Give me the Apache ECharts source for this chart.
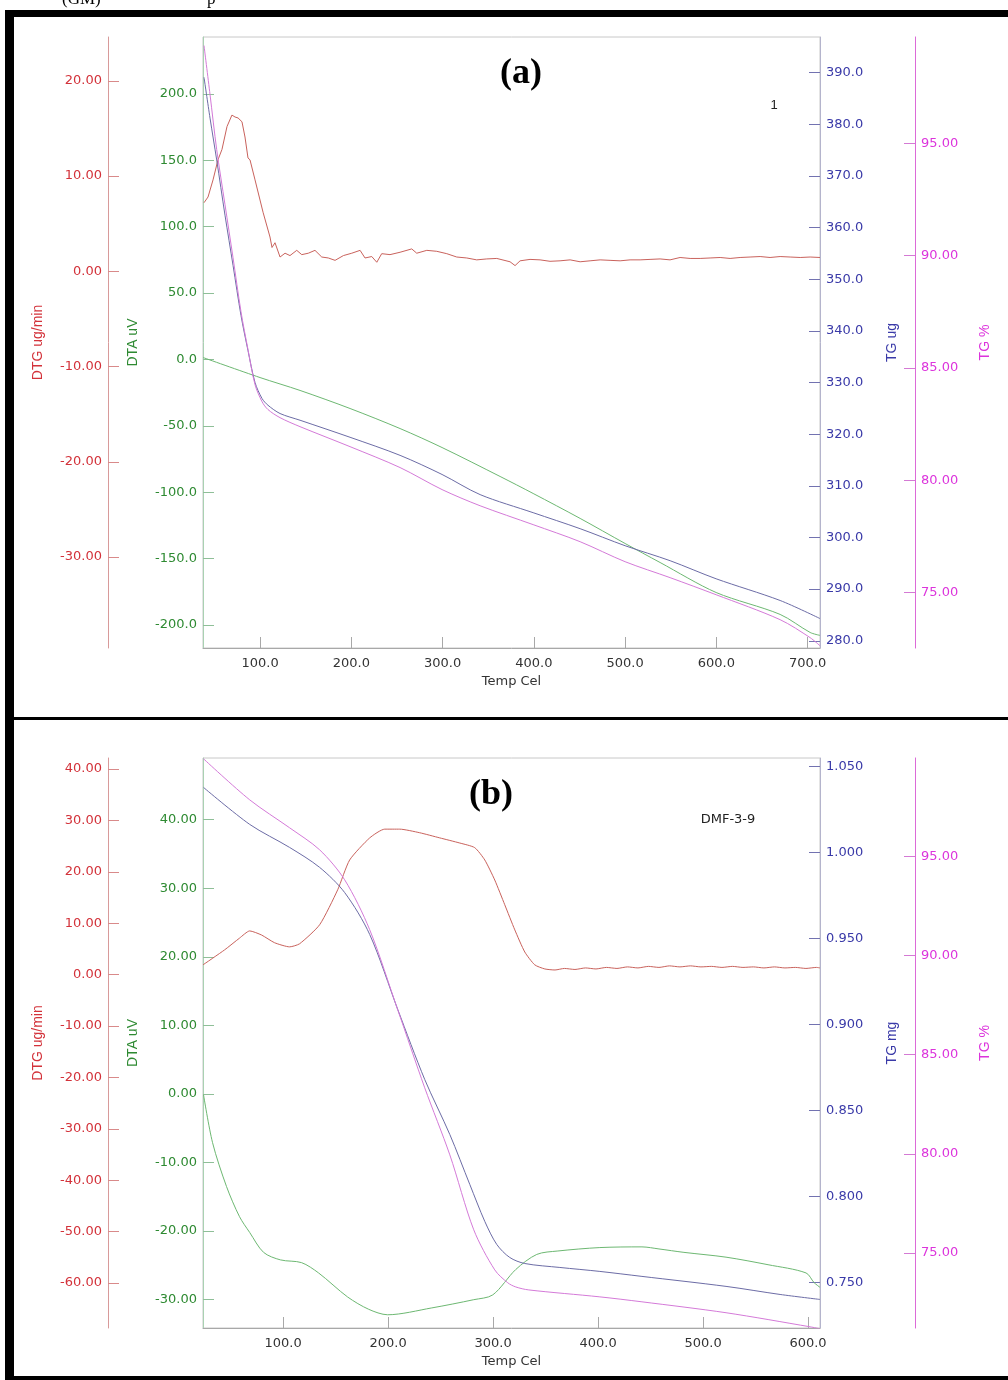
<!DOCTYPE html>
<html>
<head>
<meta charset="utf-8">
<script src="https://cdn.jsdelivr.net/npm/echarts@6.0.0/dist/echarts.min.js"></script>
<style>
html, body { margin: 0; padding: 0; background: #fff; }
#chart { width: 1008px; height: 1380px; }
</style>
</head>
<body>
<div id="chart"></div>
<script>
// ---- panel (a) ----
const dtgTempA = [38.6,43,48.5,53.9,58.3,63.8,69.2,72.6,75.9,80.2,83.5,86.8,89,94.5,103.3,110.9,113.1,116.4,121.9,127.4,
  132.8,140.2,145.7,152.9,160.2,167.6,174.8,182.2,191.3,200.5,209.6,215,222.4,227.9,233.3,242.4,253.4,266.2,271.7,282.7,
  293.6,304.6,315.5,326.5,337.4,348.4,359.4,373.9,379.4,384.9,395.8,406.8,417.7,428.7,439.7,450.7,461.6,472.6,483.5,494.5,
  505.4,516.4,527.3,538.3,549.2,560.2,571.2,582.2,593.1,604.1,615,626,636.9,647.9,658.8,669.8,680.8,691.8,702.7,713.5];
const dtgA = [7.2,7.8,9.6,11.7,12.8,15.2,16.4,16.2,16.1,15.7,14.1,11.9,11.7,9.6,6.2,3.6,2.5,3.0,1.5,1.9,
  1.65,2.2,1.75,1.9,2.2,1.5,1.4,1.15,1.65,1.9,2.2,1.4,1.55,0.95,1.85,1.75,2.0,2.35,1.9,2.2,
  2.1,1.85,1.5,1.4,1.2,1.3,1.35,1.0,0.6,1.1,1.25,1.2,1.05,1.1,1.2,1.0,1.1,1.2,1.15,1.1,
  1.2,1.2,1.25,1.3,1.2,1.45,1.35,1.35,1.4,1.45,1.35,1.45,1.5,1.55,1.45,1.55,1.5,1.45,1.5,1.45];

const dtaTempA = [37.5,100,143.8,198.6,253.4,299.4,363,399.2,450.7,500,538.3,599.7,669.8,702.7,713.5];
const dtaA = [1.5,-13.6,-23.3,-36.9,-52,-66.3,-88.1,-100.9,-119.7,-138.6,-152.9,-175.5,-192,-205.6,-207.8];

const tgTempA = [38.6,45.2,52.5,61.6,70.4,79.1,86.8,94.5,102.2,108.7,121.9,143.8,198.6,253.4,299.4,341.1,399.2,450.7,500,549.3,599.7,669.8,713.5];
const tgA = [389.1,381.2,373.1,362.4,352.7,343,336.2,330,326.9,325.6,324,322.7,319.4,315.9,312.2,308.3,304.8,301.7,298.4,295.5,292,287.8,284.3];

const tgpTempA = [38.6,45.2,52.5,61.6,70.4,79.1,86.8,94.5,102.2,108.7,121.9,143.8,198.6,253.4,299.4,341.1,399.2,450.7,500,549.3,599.7,669.8,702.7,713.5];
const tgpA = [99.35,97.17,94.72,92.27,89.91,87.51,85.82,84.26,83.5,83.15,82.79,82.39,81.5,80.57,79.59,78.87,78.03,77.27,76.38,75.67,74.91,73.8,73.0,72.64];

// ---- panel (b) ----
const dtgTempB = [23.7,44.2,58.5,68.2,79.5,91.9,106.2,115.7,134.8,152,163.4,182.5,196.8,211.1,230.1,249.2,268.3,282.5,292.1,301.6,
  311.1,320.7,330.2,339.7,349.3,359,368,378,388,398,408,418,428,438,448,458,468,478,488,498,508,518,528,538,548,558,568,578,588,598,608,611.4];
const dtgB = [1.9,4.8,7.1,8.5,7.7,6.2,5.4,6.0,9.7,16.5,22.3,26.6,28.3,28.3,27.6,26.6,25.6,24.7,22.3,18.4,
  13.6,8.7,4.4,1.9,1.1,0.9,1.2,1.0,1.3,1.1,1.4,1.2,1.5,1.3,1.6,1.4,1.7,1.5,1.7,1.5,1.6,1.4,1.6,1.4,1.5,1.3,1.5,1.3,1.4,1.2,1.4,1.3];

const dtaTempB = [24.2,32.8,46.1,58.5,68.2,81.4,97.6,117.6,133.8,161.4,181.5,199.6,241.6,281.6,299.7,321.6,341.6,361.7,401.7,441.8,458,481.8,521.9,561.9,598.1,605.7,611.4];
const dtaB = [-0.1,-7.1,-13.5,-17.9,-20.2,-23.1,-24.2,-24.6,-26.1,-29.6,-31.4,-32.2,-31.2,-30,-29.3,-25.6,-23.4,-22.9,-22.4,-22.3,-22.6,-23.1,-23.8,-24.9,-26.1,-27.5,-28.2];

const tgTempB = [24.2,68.2,106.2,134.8,158.6,182.5,209.2,234.9,258.8,277.8,292.1,303.5,315.9,330.2,363.6,401.7,441.8,521.9,573.4,611.4];
const tgB = [1.0378,1.0163,1.0029,0.9913,0.9767,0.9523,0.9087,0.868,0.8360,0.8070,0.7855,0.7721,0.7645,0.7610,0.7587,0.7564,0.7535,0.7477,0.743,0.7401];

const tgpTempB = [24.2,68.2,106.2,134.8,158.6,182.5,209.2,234.9,258.8,281.6,301.6,314,321.6,334,401.7,441.8,521.9,602,611.4];
const tgpB = [99.92,97.85,96.44,95.33,93.82,91.3,87.26,83.33,79.95,76.17,74.15,73.5,73.29,73.14,72.79,72.54,71.99,71.28,71.18];

// tick labels
const tempTicksA = [100,200,300,400,500,600,700];
const tempTicksB = [100,200,300,400,500,600];
const dtgTicksA = [-30,-20,-10,0,10,20];
const dtaTicksA = [-200,-150,-100,-50,0,50,100,150,200];
const tgTicksA = [280,290,300,310,320,330,340,350,360,370,380,390];
const tgpTicksA = [75,80,85,90,95];
const dtgTicksB = [-60,-50,-40,-30,-20,-10,0,10,20,30,40];
const dtaTicksB = [-30,-20,-10,0,10,20,30,40];
const tgTicksB = [0.75,0.8,0.85,0.9,0.95,1.0,1.05];
const tgpTicksB = [75,80,85,90,95];

const FONT = 'Liberation Sans, Arial, sans-serif';
const TICKFONT = 'DejaVu Sans, Liberation Sans, sans-serif';
const C = {
  dtg: { label: '#d3323a', line: '#d89a9a', tick: '#d98a8a', curve: '#c9625c' },
  dta: { label: '#2e8a32', line: '#a9d1b2', tick: '#8fbf98', curve: '#6db872' },
  tg:  { label: '#3a3aa8', line: '#b4b4cc', tick: '#7272b0', curve: '#6c6ca6' },
  tgp: { label: '#dc34dc', line: '#d455d4', tick: '#d47ad4', curve: '#d47ad8' }
};

const zip = (xs, ys) => xs.map((x, i) => [x, ys[i]]);

function yAx(grid, pos, offset, min, max, name, gap, ticks, dec, col) {
  return {
    type: 'value', gridIndex: grid, position: pos, offset: offset, min: min, max: max,
    name: name, nameLocation: 'middle', nameGap: gap, nameRotate: 90,
    nameTextStyle: { color: col.label, fontSize: 14, fontFamily: FONT },
    axisLine: { show: true, onZero: false, lineStyle: { color: col.line, width: 1 } },
    axisTick: { show: true, inside: true, length: 11, customValues: ticks, lineStyle: { color: col.tick } },
    axisLabel: { customValues: ticks, color: col.label, fontSize: 13, fontFamily: TICKFONT, margin: 6,
      formatter: v => Number(v).toFixed(dec) },
    splitLine: { show: false }
  };
}

function xAx(grid, min, max, ticks) {
  return {
    type: 'value', gridIndex: grid, min: min, max: max,
    name: 'Temp Cel', nameLocation: 'middle', nameGap: 27,
    nameTextStyle: { color: '#333', fontSize: 13, fontFamily: TICKFONT },
    axisLine: { show: true, onZero: false, lineStyle: { color: '#a8a8a8' } },
    axisTick: { show: true, inside: true, length: 11, customValues: ticks, lineStyle: { color: '#a8a8a8' } },
    axisLabel: { customValues: ticks, color: '#333', fontSize: 13, fontFamily: TICKFONT, margin: 9,
      formatter: v => Number(v).toFixed(1) },
    splitLine: { show: false }
  };
}

function line(xi, yi, data, color, smooth) {
  return { type: 'line', xAxisIndex: xi, yAxisIndex: yi, data: data, showSymbol: false, smooth: smooth,
    lineStyle: { color: color, width: 1 }, itemStyle: { color: color }, silent: true };
}

const chart = echarts.init(document.getElementById('chart'));
const option = {
  animation: false,
  backgroundColor: '#fff',
  grid: [
    { left: 203, right: 188, top: 37, height: 611, show: true, borderColor: '#c8c8c8', borderWidth: 1 },
    { left: 203, right: 188, top: 758, height: 570, show: true, borderColor: '#c8c8c8', borderWidth: 1 }
  ],
  xAxis: [xAx(0, 37.5, 713.5, tempTicksA), xAx(1, 23.7, 611.4, tempTicksB)],
  yAxis: [
    yAx(0, 'left', 95, -39.55, 24.6, 'DTG ug/min', 63, dtgTicksA, 2, C.dtg),
    yAx(0, 'left', 0, -217.3, 242.9, 'DTA uV', 63, dtaTicksA, 1, C.dta),
    yAx(0, 'right', 0, 278.6, 396.9, 'TG ug', 65, tgTicksA, 1, C.tg),
    yAx(0, 'right', 95, 72.54, 99.73, 'TG %', 63, tgpTicksA, 2, C.tgp),
    yAx(1, 'left', 95, -68.75, 42.14, 'DTG ug/min', 63, dtgTicksB, 2, C.dtg),
    yAx(1, 'left', 0, -34.13, 49.0, 'DTA uV', 63, dtaTicksB, 2, C.dta),
    yAx(1, 'right', 0, 0.7235, 1.0549, 'TG mg', 65, tgTicksB, 3, C.tg),
    yAx(1, 'right', 95, 71.22, 99.96, 'TG %', 63, tgpTicksB, 2, C.tgp)
  ],
  series: [
    line(0, 0, zip(dtgTempA, dtgA), C.dtg.curve, false),
    line(0, 1, zip(dtaTempA, dtaA), C.dta.curve, 0.3),
    line(0, 2, zip(tgTempA, tgA), C.tg.curve, 0.3),
    line(0, 3, zip(tgpTempA, tgpA), C.tgp.curve, 0.3),
    line(1, 4, zip(dtgTempB, dtgB), C.dtg.curve, 0.2),
    line(1, 5, zip(dtaTempB, dtaB), C.dta.curve, 0.3),
    line(1, 6, zip(tgTempB, tgB), C.tg.curve, 0.3),
    line(1, 7, zip(tgpTempB, tgpB), C.tgp.curve, 0.3)
  ],
  graphic: [
    // frame
    { type: 'rect', shape: { x: 5, y: 10, width: 1003, height: 7 }, style: { fill: '#000' } },
    { type: 'rect', shape: { x: 5, y: 10, width: 9, height: 1370 }, style: { fill: '#000' } },
    { type: 'rect', shape: { x: 5, y: 717, width: 1003, height: 3 }, style: { fill: '#000' } },
    { type: 'rect', shape: { x: 5, y: 1376, width: 1003, height: 4 }, style: { fill: '#000' } },
    // TG % axis spines drawn on top so they keep their magenta tint
    { type: 'line', shape: { x1: 915.5, y1: 37, x2: 915.5, y2: 648 }, style: { stroke: '#dc6ad8', lineWidth: 1 }, z: 10 },
    { type: 'line', shape: { x1: 915.5, y1: 758, x2: 915.5, y2: 1328 }, style: { stroke: '#dc6ad8', lineWidth: 1 }, z: 10 },
    // clipped caption above the frame
    { type: 'text', x: 62, y: 8, style: { text: '(GM)', font: '17px "Liberation Serif", serif', fill: '#000', verticalAlign: 'bottom' } },
    { type: 'text', x: 207, y: 8, style: { text: 'p', font: '17px "Liberation Serif", serif', fill: '#000', verticalAlign: 'bottom' } },
    // titles
    { type: 'text', x: 521, y: 74, style: { text: '(a)', font: 'bold 36px "Liberation Serif", serif', fill: '#000', align: 'center', verticalAlign: 'middle' } },
    { type: 'text', x: 491, y: 795, style: { text: '(b)', font: 'bold 36px "Liberation Serif", serif', fill: '#000', align: 'center', verticalAlign: 'middle' } },
    { type: 'text', x: 774, y: 105, style: { text: '1', font: '13px ' + FONT, fill: '#222', align: 'center', verticalAlign: 'middle' } },
    { type: 'text', x: 728, y: 820, style: { text: 'DMF-3-9', font: '13px ' + TICKFONT, fill: '#222', align: 'center', verticalAlign: 'middle' } }
  ]
};
chart.setOption(option);
</script>
</body>
</html>
